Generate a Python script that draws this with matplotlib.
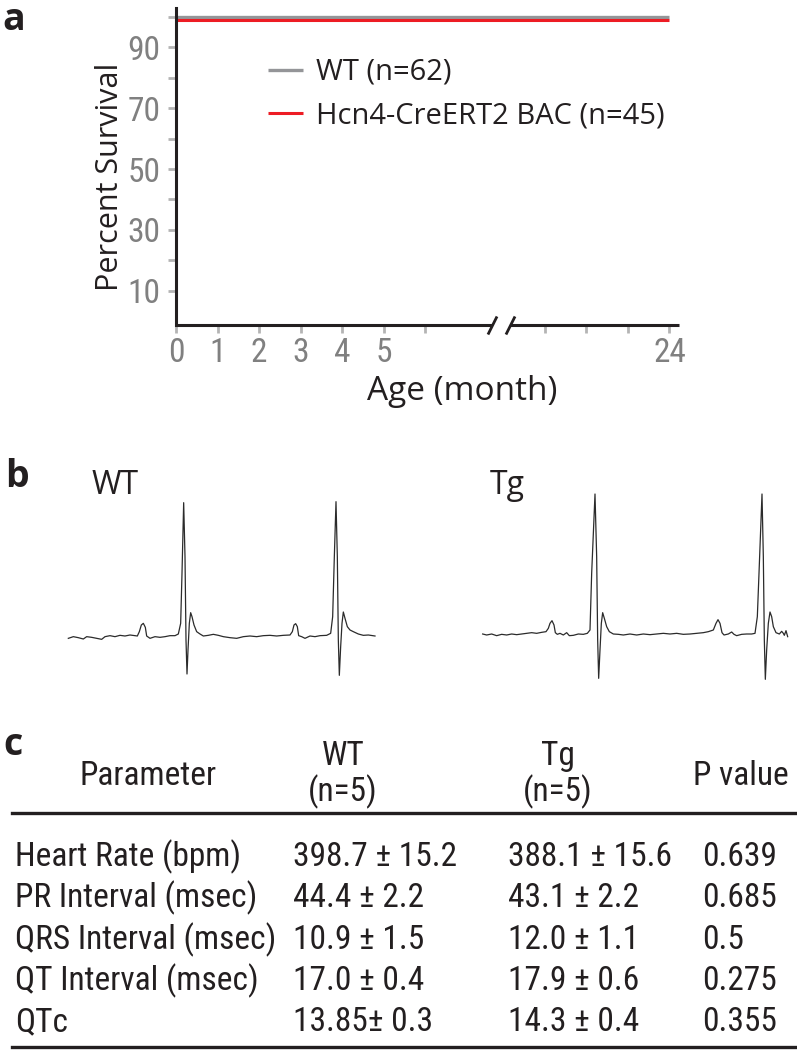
import numpy as np
import matplotlib
matplotlib.use("Agg")
import matplotlib.pyplot as plt
from matplotlib import font_manager as fm
from matplotlib.lines import Line2D

# ---------------- data ----------------
# panel a: survival
months = [0, 24]
wt_survival = [100, 100]
tg_survival = [98.8, 98.8]
series_labels = ["WT (n=62)", "Hcn4-CreERT2 BAC (n=45)"]
x_ticks = [0, 1, 2, 3, 4, 5, 6, 21, 22, 23, 24]
x_ticklabels = ["0", "1", "2", "3", "4", "5", "", "", "", "", "24"]
y_ticks = [10, 20, 30, 40, 50, 60, 70, 80, 90, 100]
y_ticklabels = ["10", "", "30", "", "50", "", "70", "", "90", ""]

# panel b: ECG traces (time in samples, amplitude in a.u.)
wt_time = [25, 40, 55, 70, 80, 95, 110, 125, 135, 150, 165, 180, 195, 210, 225, 232,
           238, 244, 250, 256, 260, 270, 285, 300, 315, 330, 345, 355, 362, 366, 371,
           375, 378, 381, 384, 388, 392, 396, 402, 410, 420, 430, 445, 460, 475, 490,
           510, 530, 550, 570, 590, 610, 630, 650, 670, 690, 697, 702, 707, 712, 716,
           725, 735, 750, 765, 780, 800, 812, 818, 823, 828, 832, 835, 838, 842, 846,
           850, 855, 862, 870, 880, 895, 910, 925, 945]
wt_amp = [-5, 0, -3, -7, 0, -2, -5, -8, 0, 3, 0, 4, 2, 5, 3, 2,
          15, 35, 40, 28, 2, -5, 0, -2, 0, 3, 3, 8, 40, 190, 402,
          240, -10, -112, -40, 40, 72, 60, 35, 15, 8, 2, 4, 7, 4, 0,
          -3, -5, 0, 2, 0, 3, 4, 2, 4, 5, 15, 35, 39, 30, 3,
          0, -5, 2, 0, 3, 4, 10, 60, 240, 405, 240, -10, -116, -30, 40,
          74, 55, 30, 20, 15, 8, 4, 5, 2]

tg_time = [38, 50, 65, 80, 95, 110, 125, 140, 155, 170, 185, 200, 215, 228, 235, 240,
           246, 252, 256, 262, 270, 280, 290, 298, 310, 325, 340, 352, 360, 365, 375,
           380, 383, 386, 390, 394, 398, 403, 410, 418, 430, 445, 460, 480, 500, 520,
           540, 560, 580, 600, 620, 640, 660, 680, 700, 715, 730, 738, 744, 750, 756,
           762, 775, 785, 792, 800, 815, 830, 845, 855, 862, 867, 876, 880, 883, 886,
           890, 895, 900, 905, 910, 918, 928, 935, 940, 943, 948, 953]
tg_amp = [0, -3, 0, -5, -1, -3, 0, -2, 0, 2, 4, 2, 5, 7, 17, 32,
          40, 27, 4, -1, 2, -3, 4, -5, -4, 0, -1, 2, 12, 182, 420,
          232, -18, -133, -48, 32, 64, 47, 22, 7, 0, -1, -3, 0, -3, 0,
          -2, 0, 2, 0, 2, -1, 0, 2, 4, 7, 12, 32, 43, 32, 4,
          -3, 0, 6, -1, -5, -1, 0, 0, 2, 52, 182, 420, 232, -18, -136,
          -48, 32, 66, 52, 22, 4, 0, 8, 2, -4, 10, -8]

# panel c: ECG parameters
params = ["Heart Rate (bpm)", "PR Interval (msec)", "QRS Interval (msec)",
          "QT Interval (msec)", "QTc"]
wt_values = ["398.7 \u00b1 15.2", "44.4 \u00b1 2.2", "10.9 \u00b1 1.5", "17.0 \u00b1 0.4", "13.85\u00b1 0.3"]
tg_values = ["388.1 \u00b1 15.6", "43.1 \u00b1 2.2", "12.0 \u00b1 1.1", "17.9 \u00b1 0.6", "14.3 \u00b1 0.4"]
p_values = ["0.639", "0.685", "0.5", "0.275", "0.355"]

# ---------------- styling ----------------
avail = {f.name for f in fm.fontManager.ttflist}
MAIN = ["Open Sans", "DejaVu Sans"]
NARROW = [f for f in ["Liberation Sans Narrow", "Roboto Condensed", "Open Sans Condensed"] if f in avail] + ["Roboto", "DejaVu Sans"]
plt.rcParams["font.family"] = MAIN

W, H = 797, 1050
fig = plt.figure(figsize=(W / 100, H / 100), dpi=100)

def fx(px):
    return px / W

def fy(py):
    return 1 - py / H

INK = "#231f20"
GRAY_LINE = "#949598"
RED = "#ed1c24"
TICK_GRAY = "#b4b4b4"
LABEL_GRAY = "#808080"

# ---------------- panel a ----------------
ax = fig.add_axes([fx(176), fy(325), fx(679) - fx(176), fy(8) - fy(325)])
brk = [0, 7.61, 20.16, 40]
brk_u = [0, 7.61, 8.05, 27.89]
fwd = lambda m: np.interp(m, brk, brk_u)
inv = lambda u: np.interp(u, brk_u, brk)
ax.set_xscale("function", functions=(fwd, inv))
ax.set_xlim(0, 24.23)
ax.set_ylim(-1.15, 102.79)

ax.plot(months, wt_survival, color=GRAY_LINE, lw=2.4, solid_capstyle="butt", label=series_labels[0])
ax.plot(months, tg_survival, color=RED, lw=2.2, solid_capstyle="butt", label=series_labels[1])

for s in ["top", "right", "bottom"]:
    ax.spines[s].set_visible(False)
ax.spines["left"].set_linewidth(2.2)
ax.spines["left"].set_color(INK)

xt = ax.get_xaxis_transform()
ax.plot([0, 7.61], [0, 0], color=INK, lw=2.2, transform=xt, clip_on=False, solid_capstyle="butt")
ax.plot([20.16, 24.23], [0, 0], color=INK, lw=2.2, transform=xt, clip_on=False, solid_capstyle="butt")
ax.plot([7.61, 20.16], [0, 0], marker=[(-1, -2), (1, 2)], markersize=13, linestyle="none",
        color=INK, mec=INK, mew=2.0, transform=xt, clip_on=False)

ax.set_xticks(x_ticks)
ax.set_xticklabels(x_ticklabels)
ax.set_yticks(y_ticks)
ax.set_yticklabels(y_ticklabels)
ax.minorticks_off()
ax.tick_params(axis="both", colors=TICK_GRAY, labelcolor=LABEL_GRAY, width=2, length=6, labelsize=24)
ax.tick_params(axis="x", pad=3)
ax.tick_params(axis="y", pad=5)
for lab in ax.get_xticklabels() + ax.get_yticklabels():
    lab.set_family(NARROW)

ax.set_ylabel("Percent Survival", fontsize=22, va="center", color=INK)
ax.yaxis.set_label_coords((110 - 176) / 503, (325 - 177) / 317)
ax.set_xlabel("Age (month)", fontsize=24, va="center", color=INK)
ax.xaxis.set_label_coords((462 - 176) / 503, (325 - 391) / 317)

leg = ax.legend(loc="upper left", bbox_to_anchor=(fx(268), fy(58)), bbox_transform=fig.transFigure,
                frameon=False, fontsize=21, handlelength=1.2, handletextpad=0.45,
                labelspacing=0.5, borderpad=0, borderaxespad=0)
for t in leg.get_texts():
    t.set_color(INK)

fig.text(fx(2), fy(1), "a", fontsize=27, fontweight="bold", va="top", ha="left", color=INK)

# ---------------- panel b ----------------
fig.text(fx(5), fy(458), "b", fontsize=27, fontweight="bold", va="top", ha="left", color=INK)
fig.text(fx(92), fy(486), "WT", fontsize=23, va="center", ha="left", color=INK)
fig.text(fx(490), fy(486), "Tg", fontsize=23, va="center", ha="left", color=INK)

ax_wt = fig.add_axes([fx(60), fy(690), fx(390) - fx(60), fy(490) - fy(690)])
ax_wt.plot(wt_time, wt_amp, color="#2b2b2b", lw=0.9)
ax_wt.set_xlim(0, 990)
ax_wt.set_ylim(-160, 440)
ax_wt.axis("off")

ax_tg = fig.add_axes([fx(470), fy(690), fx(797) - fx(470), fy(490) - fy(690)])
ax_tg.plot(tg_time, tg_amp, color="#2b2b2b", lw=0.9)
ax_tg.set_xlim(0, 981)
ax_tg.set_ylim(-168, 432)
ax_tg.axis("off")

# ---------------- panel c ----------------
fig.text(fx(3), fy(726), "c", fontsize=27, fontweight="bold", va="top", ha="left", color=INK)
TS = 24
fig.text(fx(148), fy(776), "Parameter", fontsize=TS, ha="center", va="center", family=NARROW, color=INK)
fig.text(fx(343), fy(756), "WT", fontsize=TS, ha="center", va="center", family=NARROW, color=INK)
fig.text(fx(343), fy(792), "(n=5)", fontsize=TS, ha="center", va="center", family=NARROW, color=INK)
fig.text(fx(558), fy(756), "Tg", fontsize=TS, ha="center", va="center", family=NARROW, color=INK)
fig.text(fx(558), fy(792), "(n=5)", fontsize=TS, ha="center", va="center", family=NARROW, color=INK)
fig.text(fx(741), fy(776), "P value", fontsize=TS, ha="center", va="center", family=NARROW, color=INK)

fig.add_artist(Line2D([fx(12), fx(797)], [fy(813), fy(813)], color=INK, lw=2.4))
fig.add_artist(Line2D([fx(12), fx(797)], [fy(1047), fy(1047)], color=INK, lw=2.4))

row_y = [857, 898, 940, 981, 1022]
for i in range(len(params)):
    y = fy(row_y[i])
    fig.text(fx(15), y, params[i], fontsize=TS, ha="left", va="center", family=NARROW, color=INK)
    fig.text(fx(293), y, wt_values[i], fontsize=TS, ha="left", va="center", family=NARROW, color=INK)
    fig.text(fx(508), y, tg_values[i], fontsize=TS, ha="left", va="center", family=NARROW, color=INK)
    fig.text(fx(702), y, p_values[i], fontsize=TS, ha="left", va="center", family=NARROW, color=INK)

fig.savefig("out.png", dpi=100)
